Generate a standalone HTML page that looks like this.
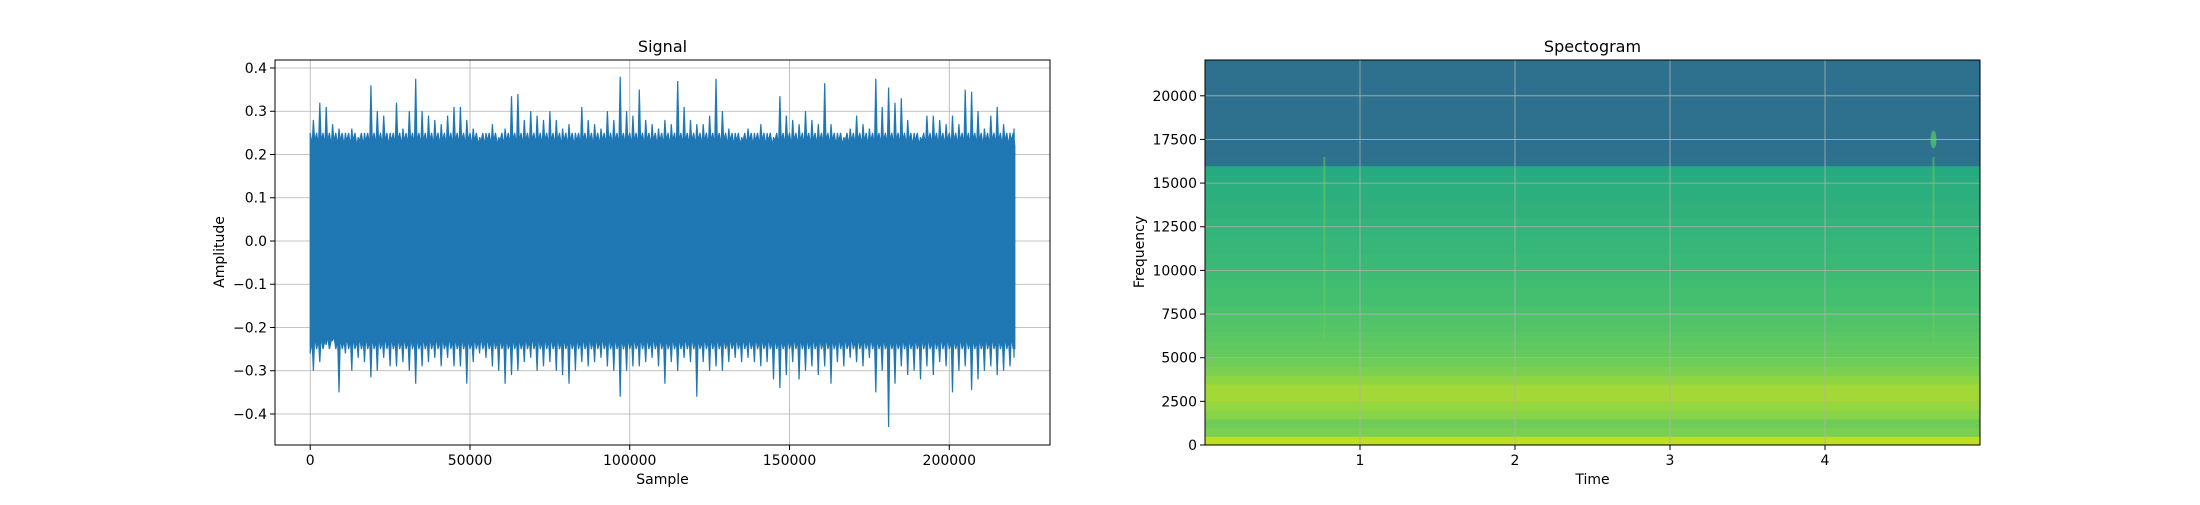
<!DOCTYPE html>
<html><head><meta charset="utf-8"><style>
html,body{margin:0;padding:0;background:#fff;}
svg text{font-family:"DejaVu Sans","Liberation Sans",sans-serif;fill:#000;}
</style></head><body>
<svg id="fig" width="2200" height="500" xmlns="http://www.w3.org/2000/svg">
<rect width="2200" height="500" fill="#fff"/>
<g id="left"></g>
<g id="right"></g>
</svg>
<script>
const sigMax=[0.28,0.32,0.31,0.27,0.26,0.25,0.26,0.24,0.25,0.36,0.30,0.29,0.25,0.32,0.26,0.30,0.375,0.30,0.29,0.28,0.27,0.29,0.31,0.31,0.28,0.26,0.24,0.25,0.27,0.24,0.26,0.335,0.34,0.28,0.30,0.29,0.28,0.30,0.28,0.26,0.27,0.25,0.31,0.28,0.27,0.26,0.30,0.28,0.38,0.30,0.29,0.35,0.28,0.27,0.26,0.28,0.27,0.37,0.31,0.28,0.27,0.27,0.29,0.375,0.30,0.26,0.25,0.24,0.26,0.25,0.27,0.25,0.24,0.335,0.29,0.28,0.27,0.30,0.28,0.27,0.365,0.27,0.25,0.24,0.26,0.29,0.27,0.26,0.375,0.31,0.355,0.32,0.33,0.28,0.25,0.24,0.29,0.29,0.28,0.27,0.29,0.27,0.35,0.345,0.30,0.26,0.29,0.31,0.27,0.25,0.26];
const sigMin=[-0.30,-0.28,-0.24,-0.23,-0.35,-0.26,-0.30,-0.27,-0.28,-0.315,-0.30,-0.27,-0.29,-0.29,-0.28,-0.30,-0.33,-0.29,-0.28,-0.27,-0.29,-0.27,-0.29,-0.29,-0.33,-0.28,-0.26,-0.27,-0.29,-0.30,-0.33,-0.31,-0.30,-0.28,-0.27,-0.30,-0.29,-0.28,-0.30,-0.31,-0.33,-0.30,-0.28,-0.29,-0.28,-0.27,-0.29,-0.30,-0.36,-0.30,-0.29,-0.29,-0.28,-0.27,-0.29,-0.33,-0.28,-0.30,-0.27,-0.28,-0.36,-0.28,-0.30,-0.29,-0.30,-0.28,-0.27,-0.28,-0.27,-0.28,-0.29,-0.28,-0.32,-0.34,-0.31,-0.28,-0.32,-0.30,-0.29,-0.31,-0.29,-0.33,-0.28,-0.29,-0.27,-0.28,-0.29,-0.27,-0.35,-0.30,-0.43,-0.33,-0.29,-0.31,-0.30,-0.32,-0.29,-0.31,-0.28,-0.29,-0.35,-0.30,-0.29,-0.345,-0.32,-0.30,-0.29,-0.31,-0.30,-0.29,-0.27];
const binSize=2000, nSamples=220500;
const sigXTicks=[0,50000,100000,150000,200000];
const sigYTicks=[-0.4,-0.3,-0.2,-0.1,0.0,0.1,0.2,0.3,0.4];
// spectrogram: viridis level per 500 Hz band, from 0 Hz upward
const specLevels=[0.90,0.80,0.78,0.82,0.84,0.86,0.86,0.83,0.80,0.78,0.76,0.75,0.74,0.73,0.72,0.71,0.70,0.70,0.69,0.68,0.67,0.67,0.66,0.66,0.65,0.65,0.64,0.64,0.63,0.63,0.62,0.61,0.38,0.37,0.37,0.37,0.37,0.37,0.37,0.37,0.37,0.37,0.37,0.37,0.37];
const specBand=500, specFmax=22050, specTmax=5.0;
const specXTicks=[1,2,3,4];
const specYTicks=[0,2500,5000,7500,10000,12500,15000,17500,20000];
const transients=[0.77,4.70];

const NS='http://www.w3.org/2000/svg';
function mk(p,t,a){const e=document.createElementNS(NS,t);for(const k in a)e.setAttribute(k,a[k]);p.appendChild(e);return e;}
const L={x0:275,x1:1050,y0:60,y1:445};
const R={x0:1205,x1:1980,y0:60,y1:445};
const sxL=v=>L.x0+(v+11025)/(242550)*(L.x1-L.x0);
const syL=v=>L.y1-(v+0.4717)/(0.4185+0.4717)*(L.y1-L.y0);
const sxR=v=>R.x0+v/specTmax*(R.x1-R.x0);
const syR=v=>R.y1-v/specFmax*(R.y1-R.y0);

function viridis(t){const s=['#440154','#482475','#414487','#355f8d','#2a788e','#21918c','#22a884','#44bf70','#7ad151','#bddf26','#fde725'];
 t=Math.max(0,Math.min(1,t));const i=Math.min(9,Math.floor(t*10)),f=t*10-i;
 const a=s[i],b=s[i+1];const c=n=>[parseInt(n.substr(1,2),16),parseInt(n.substr(3,2),16),parseInt(n.substr(5,2),16)];
 const A=c(a),B=c(b);return 'rgb('+A.map((v,k)=>Math.round(v+(B[k]-v)*f)).join(',')+')';}

// LEFT
const g=document.getElementById('left');
const grid=mk(g,'g',{});
sigXTicks.forEach(v=>mk(grid,'line',{x1:sxL(v),x2:sxL(v),y1:L.y0,y2:L.y1,stroke:'#b0b0b0','stroke-width':0.8}));
sigYTicks.forEach(v=>mk(grid,'line',{x1:L.x0,x2:L.x1,y1:syL(v),y2:syL(v),stroke:'#b0b0b0','stroke-width':0.8}));
let pts=[];
for(let i=0;i<sigMax.length;i++){const xs=Math.min(i*binSize,nSamples),xe=Math.min((i+1)*binSize,nSamples),xm=(xs+xe)/2,w=(xe-xs);
 pts.push([sxL(xs),syL(0.25)]);pts.push([sxL(xm-w*0.2),syL(0.22)]);pts.push([sxL(xm),syL(sigMax[i])]);pts.push([sxL(xm+w*0.2),syL(0.23)]);}
pts.push([sxL(nSamples),syL(0.22)]);
for(let i=sigMin.length-1;i>=0;i--){const xs=Math.min(i*binSize,nSamples),xe=Math.min((i+1)*binSize,nSamples),xm=(xs+xe)/2,w=(xe-xs);
 pts.push([sxL(xe),syL(-0.25)]);pts.push([sxL(xm+w*0.2),syL(-0.22)]);pts.push([sxL(xm),syL(sigMin[i])]);pts.push([sxL(xm-w*0.2),syL(-0.23)]);}
pts.push([sxL(0),syL(-0.26)]);
const sig=mk(g,'polygon',{points:pts.map(p=>p[0].toFixed(1)+','+p[1].toFixed(1)).join(' '),fill:'#1f77b4',stroke:'#1f77b4','stroke-width':1.2,'stroke-linejoin':'miter'});

const fr=mk(g,'rect',{x:L.x0,y:L.y0,width:L.x1-L.x0,height:L.y1-L.y0,fill:'none',stroke:'#000','stroke-width':1});

sigXTicks.forEach(v=>{mk(g,'line',{x1:sxL(v),x2:sxL(v),y1:L.y1,y2:L.y1+5,stroke:'#000'});
 const t=mk(g,'text',{x:sxL(v),y:L.y1+20,'text-anchor':'middle','font-size':14});t.textContent=v;
 });
sigYTicks.forEach(v=>{mk(g,'line',{x1:L.x0-5,x2:L.x0,y1:syL(v),y2:syL(v),stroke:'#000'});
 const t=mk(g,'text',{x:L.x0-8,y:syL(v)+5,'text-anchor':'end','font-size':14});t.textContent=(v<0?'\u2212':'')+Math.abs(v).toFixed(1);
 });
let t=mk(g,'text',{x:(L.x0+L.x1)/2,y:52,'text-anchor':'middle','font-size':16});t.textContent='Signal';

t=mk(g,'text',{x:(L.x0+L.x1)/2,y:484,'text-anchor':'middle','font-size':14});t.textContent='Sample';

t=mk(g,'text',{x:224,y:252,'text-anchor':'middle','font-size':14,transform:'rotate(-90 224 252)'});t.textContent='Amplitude';


// RIGHT
const h=document.getElementById('right');
const cells=mk(h,'g',{});
specLevels.forEach((lv,i)=>{const f0=i*specBand,f1=Math.min((i+1)*specBand,specFmax);if(f0>=specFmax)return;
 const r=mk(cells,'rect',{x:R.x0,y:syR(f1),width:R.x1-R.x0,height:syR(f0)-syR(f1)+0.6,fill:viridis(lv)});
 });
transients.forEach(tt=>{const l=mk(cells,'line',{x1:sxR(tt),x2:sxR(tt),y1:syR(16500),y2:syR(6000),stroke:viridis(0.78),'stroke-width':2,opacity:0.5});
 });
const gl=mk(h,'ellipse',{cx:sxR(transients[1]),cy:syR(17500),rx:3,ry:9,fill:viridis(0.72),opacity:0.8});

const grid2=mk(h,'g',{});
specXTicks.forEach(v=>mk(grid2,'line',{x1:sxR(v),x2:sxR(v),y1:R.y0,y2:R.y1,stroke:'#b0b0b0','stroke-width':0.8}));
specYTicks.forEach(v=>mk(grid2,'line',{x1:R.x0,x2:R.x1,y1:syR(v),y2:syR(v),stroke:'#b0b0b0','stroke-width':0.8}));
const fr2=mk(h,'rect',{x:R.x0,y:R.y0,width:R.x1-R.x0,height:R.y1-R.y0,fill:'none',stroke:'#000','stroke-width':1});

specXTicks.forEach(v=>{mk(h,'line',{x1:sxR(v),x2:sxR(v),y1:R.y1,y2:R.y1+5,stroke:'#000'});
 const t=mk(h,'text',{x:sxR(v),y:R.y1+20,'text-anchor':'middle','font-size':14});t.textContent=v;
 });
specYTicks.forEach(v=>{mk(h,'line',{x1:R.x0-5,x2:R.x0,y1:syR(v),y2:syR(v),stroke:'#000'});
 const t=mk(h,'text',{x:R.x0-8,y:syR(v)+5,'text-anchor':'end','font-size':14});t.textContent=v;
 });
t=mk(h,'text',{x:(R.x0+R.x1)/2,y:52,'text-anchor':'middle','font-size':16});t.textContent='Spectogram';

t=mk(h,'text',{x:(R.x0+R.x1)/2,y:484,'text-anchor':'middle','font-size':14});t.textContent='Time';

t=mk(h,'text',{x:1144,y:252,'text-anchor':'middle','font-size':14,transform:'rotate(-90 1144 252)'});t.textContent='Frequency';

</script>
</body></html>
